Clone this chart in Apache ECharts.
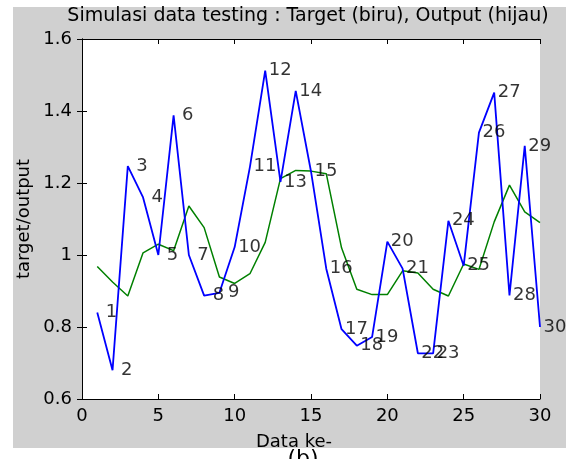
<!DOCTYPE html>
<html><head><meta charset="utf-8">
<script src="https://cdn.jsdelivr.net/npm/echarts@6/dist/echarts.min.js"></script>
<style>
html,body{margin:0;padding:0;background:#fff}
#wrap{position:relative;width:566px;height:459px;overflow:hidden}
#bg{position:absolute;left:13px;top:7px;width:553px;height:441px;background:#d0d0d0}
#c{position:absolute;left:0;top:0;width:566px;height:459px}
</style>
</head><body>
<div id="wrap"><div id="bg"></div><div id="c"></div></div>
<script>
const xTicks = [0, 5, 10, 15, 20, 25, 30];
const yTicks = [0.6, 0.8, 1.0, 1.2, 1.4, 1.6];
const indices = [1,2,3,4,5,6,7,8,9,10,11,12,13,14,15,16,17,18,19,20,21,22,23,24,25,26,27,28,29,30];
const target = [0.84, 0.68, 1.247, 1.16, 1.0, 1.388, 1.0, 0.887, 0.895, 1.022,
                1.245, 1.512, 1.203, 1.456, 1.232, 0.962, 0.794, 0.748, 0.772, 1.037,
                0.962, 0.727, 0.727, 1.095, 0.97, 1.34, 1.451, 0.888, 1.303, 0.80];
const output = [0.968, 0.925, 0.886, 1.006, 1.03, 1.012, 1.136, 1.076, 0.939, 0.921,
                0.948, 1.035, 1.212, 1.235, 1.233, 1.226, 1.02, 0.905, 0.89, 0.89,
                0.956, 0.95, 0.905, 0.886, 0.975, 0.96, 1.092, 1.194, 1.12, 1.09];
const titleText = 'Simulasi data testing : Target (biru), Output (hijau)';
const xName = 'Data ke-';
const yName = 'target/output';
const caption = '(b)';

const FONT = 'DejaVu Sans';
const chart = echarts.init(document.getElementById('c'), null, {renderer: 'canvas'});
const fmtY = v => (Math.abs(v - 1) < 1e-9 ? '1' : (+v).toFixed(1));
const axisCommon = {
  axisLine: {show: true, lineStyle: {color: '#000', width: 1}},
  axisTick: {show: true, inside: true, length: 5, lineStyle: {color: '#000', width: 1}},
  splitLine: {show: false}
};
chart.setOption({
  animation: false,
  backgroundColor: 'transparent',
  textStyle: {fontFamily: FONT},
  grid: {left: 82, right: 26, top: 39, bottom: 60, show: true, backgroundColor: '#fff', borderWidth: 0},
  xAxis: [
    Object.assign({type: 'value', min: xTicks[0], max: xTicks[xTicks.length - 1], interval: xTicks[1] - xTicks[0], position: 'bottom',
      axisLabel: {show: true, color: '#000', fontSize: 18, fontFamily: FONT, margin: 8}}, axisCommon),
    Object.assign({type: 'value', min: xTicks[0], max: xTicks[xTicks.length - 1], interval: xTicks[1] - xTicks[0], position: 'top',
      axisLabel: {show: false}}, axisCommon)
  ],
  yAxis: [
    Object.assign({type: 'value', min: yTicks[0], max: yTicks[yTicks.length - 1], interval: 0.2, position: 'left',
      axisLabel: {show: true, color: '#000', fontSize: 18, fontFamily: FONT, margin: 10, formatter: fmtY}}, axisCommon),
    Object.assign({type: 'value', min: yTicks[0], max: yTicks[yTicks.length - 1], interval: 0.2, position: 'right',
      axisLabel: {show: false}}, axisCommon)
  ],
  series: [
    {type: 'line', name: 'Output', data: indices.map((x, i) => [x, output[i]]), showSymbol: false, symbol: 'none',
      lineStyle: {color: '#008000', width: 1.5}, z: 2},
    {type: 'line', name: 'Target', data: indices.map((x, i) => [x, target[i]]), showSymbol: false, symbol: 'none',
      lineStyle: {color: '#0000ff', width: 1.8}, z: 3},
    {type: 'scatter', name: 'labels', symbolSize: 1, itemStyle: {color: 'rgba(0,0,0,0)'}, z: 4,
      data: indices.map((x, i) => ({value: [x, target[i]], label: {distance: x < 10 ? 8 : 3}})),
      label: {show: true, position: 'right', color: '#000', fontSize: 18, fontFamily: FONT,
        formatter: p => String(p.value[0])}}
  ],
  graphic: [
    {type: 'text', x: 308, y: 16, style: {text: titleText, fill: '#000', font: '19px "' + FONT + '"', align: 'center', verticalAlign: 'middle'}},
    {type: 'text', x: 294, y: 442, style: {text: xName, fill: '#000', font: '18px "' + FONT + '"', align: 'center', verticalAlign: 'middle'}},
    {type: 'text', x: 24, y: 219, rotation: Math.PI / 2, style: {text: yName, fill: '#000', font: '18px "' + FONT + '"', align: 'center', verticalAlign: 'middle'}},
    {type: 'text', x: 303, y: 448, style: {text: caption, fill: '#000', font: '22px "' + FONT + '"', align: 'center', verticalAlign: 'top'}}
  ]
});
</script>
</body></html>
